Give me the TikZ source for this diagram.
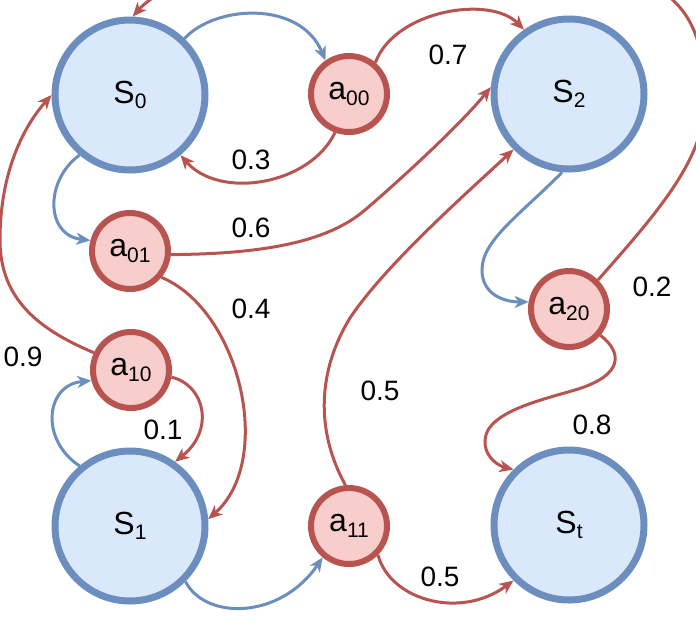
\documentclass[tikz,border=0pt]{standalone}
\usepackage{fontspec}
\setmainfont{Liberation Sans}
\usetikzlibrary{arrows.meta}
\definecolor{bstroke}{HTML}{6C8EBF}
\definecolor{bfill}{HTML}{DAE8FC}
\definecolor{rstroke}{HTML}{B85450}
\definecolor{rfill}{HTML}{F8CECC}
\newcommand\nsub[2]{#1\raisebox{-5.5pt}{\fontsize{21}{21}\selectfont #2}}
\tikzset{
  state/.style={circle, draw=bstroke, fill=bfill, line width=7pt, minimum size=150pt, inner sep=0pt,
    font=\fontsize{32}{33}\selectfont},
  action/.style={circle, draw=rstroke, fill=rfill, line width=6pt, minimum size=76pt, inner sep=0pt,
    font=\fontsize{32}{33}\selectfont},
  bedge/.style={draw=bstroke, line width=3pt, -{Stealth[length=14pt,width=12pt,inset=4pt]}},
  redge/.style={draw=rstroke, line width=3pt, -{Stealth[length=14pt,width=12pt,inset=4pt]}},
  prob/.style={font=\fontsize{28}{30}\selectfont, inner sep=0pt}
}
\begin{document}
\begin{tikzpicture}[x=1pt,y=-1pt]
\useasboundingbox (0,0) rectangle (696,633);
\clip (0,0) rectangle (696,633);
% nodes
\node[state] (S0) at (130,95) {\nsub{S}{0}};
\node[state] (S2) at (569,94) {\nsub{S}{2}};
\node[state] (S1) at (130,526) {\nsub{S}{1}};
\node[state] (St) at (569,525) {\nsub{S}{t}};
\node[action] (a00) at (349,94) {\nsub{a}{00}};
\node[action] (a01) at (130,251) {\nsub{a}{01}};
\node[action] (a10) at (131,370) {\nsub{a}{10}};
\node[action] (a11) at (349,526) {\nsub{a}{11}};
\node[action] (a20) at (569,309) {\nsub{a}{20}};
% blue edges
\draw[bedge] (S0.46) .. controls (215,5) and (300,0) .. (a00.125);
\draw[bedge] (S0.-130) .. controls (45,180) and (45,235) .. (a01.165);
\draw[bedge] (S1.130) .. controls (40,440) and (45,385) .. (a10.195);
\draw[bedge] (S1.-45) .. controls (205,620) and (280,620) .. (a11.-130);
\draw[bedge] (S2.-95) .. controls (520,215) and (482,240) .. (482,270)
  .. controls (482,295) and (505,302) .. (a20.170);
% red edges
\draw[redge] (a00.-110) .. controls (310,185) and (220,200) .. (S0.-50);
\draw[redge] (a00.50) .. controls (395,10) and (490,-5) .. (S2.125);
\draw[redge] (a01.-5) .. controls (270,254) and (330,240) .. (365,210)
  .. controls (400,180) and (460,125) .. (S2.175);
\draw[redge] (a01.-40) .. controls (240,310) and (275,460) .. (S1.5);
\draw[redge] (a10.155) .. controls (40,330) and (0,300) .. (0,240)
  .. controls (0,170) and (25,125) .. (S0.180);
\draw[redge] (a10.-10) .. controls (205,385) and (215,430) .. (S1.55);
\draw[redge] (a11.95) .. controls (315,430) and (318,370) .. (350,318)
  .. controls (385,265) and (470,190) .. (S2.-135);
\draw[redge] (a11.-45) .. controls (390,600) and (460,620) .. (St.-135);
\draw[redge] (a20.45) .. controls (655,215) and (705,160) .. (705,100)
  .. controls (705,40) and (690,10) .. (660,-10)
  .. controls (560,-80) and (200,-60) .. (S0.88);
\draw[redge] (a20.-40) .. controls (622,352) and (625,375) .. (575,390)
  .. controls (540,400) and (500,410) .. (488,430)
  .. controls (478,450) and (495,465) .. (St.135);
% labels
\node[prob] (p03) at (251,160) {0.3};
\node[prob] (p07) at (448,55) {0.7};
\node[prob] (p06) at (251,228) {0.6};
\node[prob] (p04) at (251,309) {0.4};
\node[prob] (p09) at (23,357) {0.9};
\node[prob] (p01) at (163,430) {0.1};
\node[prob] (p05a) at (380,391) {0.5};
\node[prob] (p05b) at (440,577) {0.5};
\node[prob] (p08) at (592,425) {0.8};
\node[prob] (p02) at (652,287) {0.2};
\end{tikzpicture}
\end{document}
